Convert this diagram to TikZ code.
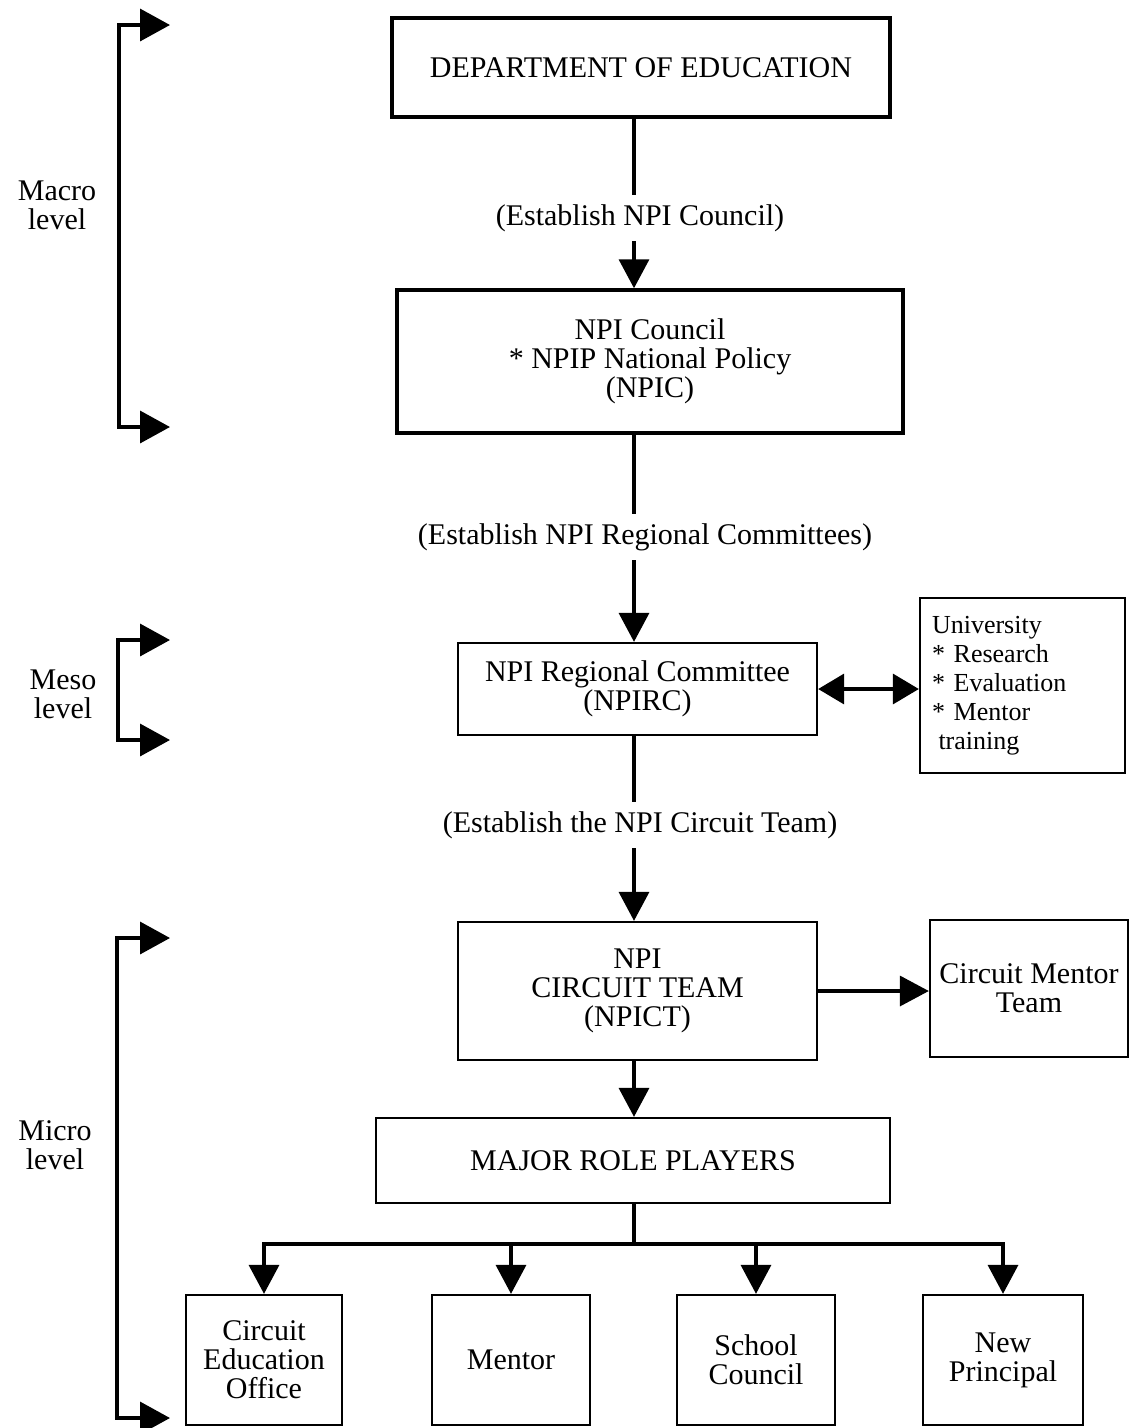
\documentclass[tikz,border=0pt]{standalone}
\usepackage{fontspec}
\setmainfont{Liberation Serif}
\usetikzlibrary{arrows.meta}
\tikzset{
  every node/.style={font=\fontsize{30}{29}\selectfont},
  thickbox/.style={draw, line width=3.5pt, inner sep=0pt, align=center},
  thinbox/.style={draw, line width=2.3pt, inner sep=0pt, align=center},
  conn/.style={line width=3.5pt},
  arr/.style={line width=3.5pt, -{Triangle[length=29pt,width=30pt]}},
  dblarr/.style={line width=3.5pt, {Triangle[length=26pt,width=30pt]}-{Triangle[length=26pt,width=30pt]}},
  brk/.style={line width=3.5pt, {Triangle[length=30pt,width=32pt]}-{Triangle[length=30pt,width=32pt]}},
  lbl/.style={inner xsep=0pt, inner ysep=9pt, text height=21pt, text depth=7pt, align=center},
  lvl/.style={inner sep=0pt, align=center},
}
\begin{document}
\begin{tikzpicture}[x=1pt,y=-1pt]
\path[fill=white] (0,0) rectangle (1138,1428);
\useasboundingbox (0,0) rectangle (1138,1428);

\coordinate (ax) at (634,0);

% main column
\node[thickbox, minimum width=498pt, minimum height=99pt] (dept) at (641,67.5) {DEPARTMENT OF EDUCATION};
\node[lbl] (l1) at (640,218) {(Establish NPI Council)};
\node[thickbox, minimum width=506pt, minimum height=143pt] (npic) at (650,361.5) {NPI Council\\{}* NPIP National Policy\\(NPIC)};
\node[lbl] (l2) at (645,537) {(Establish NPI Regional Committees)};
\node[thinbox, minimum width=359pt, minimum height=92pt] (npirc) at (637.5,689) {NPI Regional Committee\\(NPIRC)};
\node[thinbox, minimum width=205pt, minimum height=175pt, text width=181pt, inner xsep=12pt, align=left,
      font=\fontsize{26}{29}\selectfont] (univ) at (1022.5,685.5) {University\\{}* Research\\{}* Evaluation\\{}* Mentor\\{}\hspace*{0.25em}training};
\node[lbl] (l3) at (640,825) {(Establish the NPI Circuit Team)};
\node[thinbox, minimum width=359pt, minimum height=138pt] (npict) at (637.5,991) {NPI\\CIRCUIT TEAM\\(NPICT)};
\node[thinbox, minimum width=198pt, minimum height=137pt] (cmt) at (1029,988.5) {Circuit Mentor\\Team};
\node[thinbox, minimum width=514pt, minimum height=85pt] (mrp) at (633,1160.5) {MAJOR ROLE PLAYERS};

\node[thinbox, minimum width=156pt, minimum height=130pt] (ceo) at (264,1360) {Circuit\\Education\\Office};
\node[thinbox, minimum width=158pt, minimum height=130pt] (mentor) at (511,1360) {Mentor};
\node[thinbox, minimum width=158pt, minimum height=130pt] (school) at (756,1360) {School\\Council};
\node[thinbox, minimum width=160pt, minimum height=130pt] (newp) at (1003,1360) {New\\Principal};

% connectors
\draw[conn] (ax |- dept.south) -- (ax |- l1.north);
\draw[arr] (ax |- l1.south) -- (ax |- npic.north);
\draw[conn] (ax |- npic.south) -- (ax |- l2.north);
\draw[arr] (ax |- l2.south) -- (ax |- npirc.north);
\draw[dblarr] (npirc.east) -- (npirc.east -| univ.west);
\draw[conn] (ax |- npirc.south) -- (ax |- l3.north);
\draw[arr] (ax |- l3.south) -- (ax |- npict.north);
\draw[arr] (npict.east) -- (npict.east -| cmt.west);
\draw[arr] (ax |- npict.south) -- (ax |- mrp.north);
\draw[conn] (ax |- mrp.south) -- ++(0,40) coordinate (bus);
\draw[arr] (bus) -| (ceo.north);
\draw[arr] (bus) -| (mentor.north);
\draw[arr] (bus) -| (school.north);
\draw[arr] (bus) -| (newp.north);

% level brackets
\node[lvl] (macro) at (57,205) {Macro\\level};
\node[lvl] (meso) at (63,694) {Meso\\level};
\node[lvl] (micro) at (55,1145) {Micro\\level};

\coordinate (mac1) at (170,25);
\coordinate (macv) at (119,226);
\coordinate (mac2) at (170,427);
\draw[brk] (mac1) -| (macv) |- (mac2);

\coordinate (mes1) at (170,640);
\coordinate (mesv) at (118,690);
\coordinate (mes2) at (170,740);
\draw[brk] (mes1) -| (mesv) |- (mes2);

\coordinate (mic1) at (170,938);
\coordinate (micv) at (117,1178);
\coordinate (mic2) at (170,1418);
\draw[brk] (mic1) -| (micv) |- (mic2);
\end{tikzpicture}
\end{document}
